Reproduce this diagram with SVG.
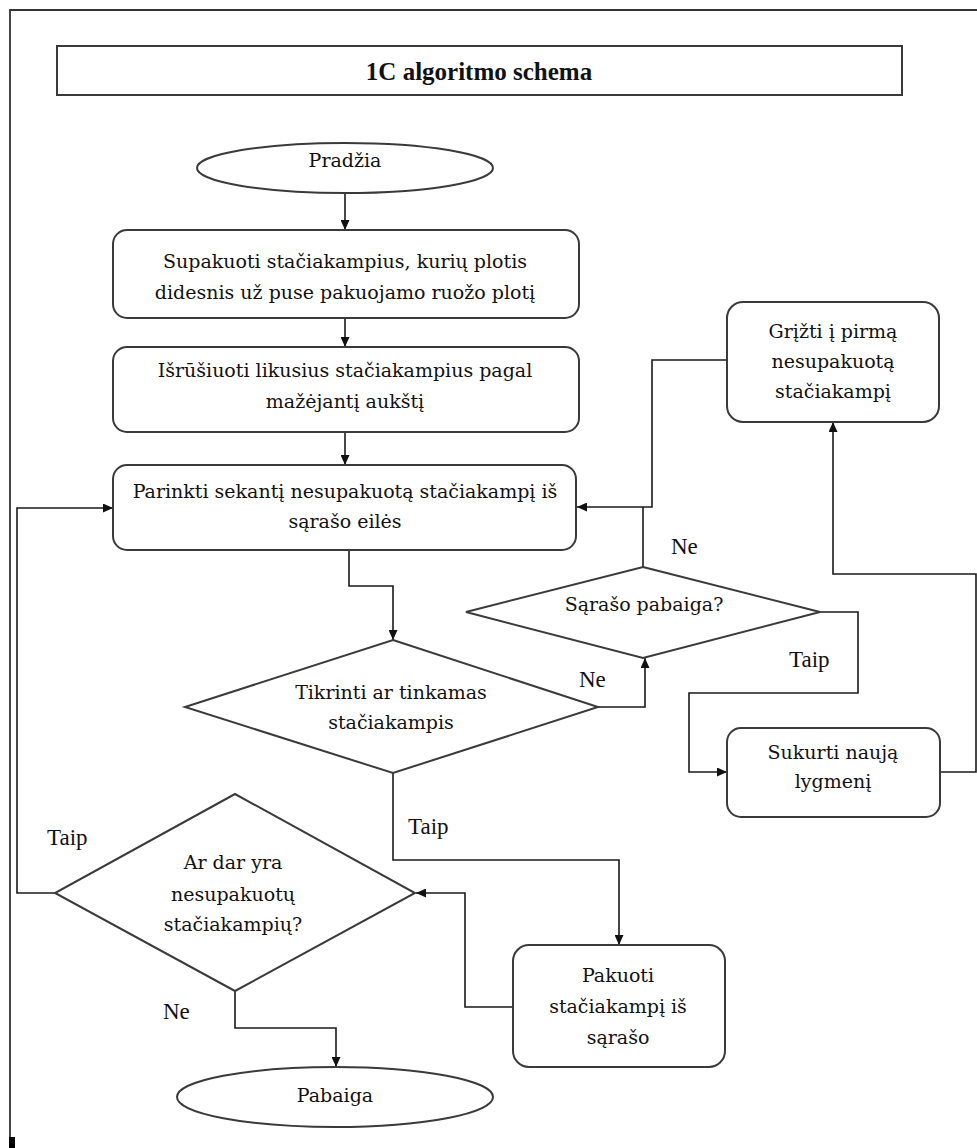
<svg xmlns="http://www.w3.org/2000/svg" width="977" height="1148" viewBox="0 0 977 1148">
  <defs>
    <marker id="arrow" markerUnits="userSpaceOnUse" markerWidth="11" markerHeight="9" refX="10" refY="4.5" orient="auto">
      <path d="M0,0 L10,4.5 L0,9 Z" fill="#111"/>
    </marker>
    <style>
      .shape { fill: #fff; stroke: #3a3a3a; stroke-width: 2; }
      .frame { fill: none; stroke: #333; stroke-width: 1.8; }
      .wire { fill: none; stroke: #1a1a1a; stroke-width: 1.6; }
      .arr { marker-end: url(#arrow); }
      .t { font-family: "DejaVu Serif", "Liberation Serif", serif; font-size: 19px; fill: #111; text-anchor: middle; }
      .lbl { font-family: "Liberation Serif", "Times New Roman", serif; font-size: 23px; fill: #111; }
      .title { font-family: "Liberation Serif", "Times New Roman", serif; font-size: 25px; font-weight: bold; fill: #111; text-anchor: middle; }
    </style>
  </defs>

  <rect width="977" height="1148" fill="#fff"/>

  <!-- page frame -->
  <g id="frame">
    <path class="frame" d="M977,10 H10 V1148"/>
    <rect x="9" y="1137" width="6" height="11" fill="#000"/>
  </g>

  <!-- heading -->
  <g id="title">
    <rect class="shape" x="57" y="46" width="845" height="49"/>
    <text class="title" x="479" y="80">1C algoritmo schema</text>
  </g>

  <!-- connectors -->
  <g id="connectors">
    <path class="wire arr" d="M345,193 V230"/>
    <path class="wire arr" d="M345,318 V347"/>
    <path class="wire arr" d="M345,432 V465"/>
    <path class="wire arr" d="M349,550 V586 H393 V640"/>
    <path class="wire arr" d="M598,707 H645 V658"/>
    <path class="wire" d="M643,567 V507"/>
    <path class="wire arr" d="M727,360 H652 V507 H577"/>
    <path class="wire arr" d="M820,612 H858 V693 H689 V772 H727"/>
    <path class="wire arr" d="M940,772 H976 V574 H833 V422"/>
    <path class="wire arr" d="M393,773 V860 H619 V945"/>
    <path class="wire arr" d="M513,1007 H465 V893 H416"/>
    <path class="wire arr" d="M55,893 H17 V508 H113"/>
    <path class="wire arr" d="M235,991 V1028 H336 V1067"/>
  </g>

  <!-- connector labels -->
  <g id="labels">
    <text class="lbl" x="671" y="554">Ne</text>
    <text class="lbl" x="789" y="667">Taip</text>
    <text class="lbl" x="579" y="687">Ne</text>
    <text class="lbl" x="408" y="834">Taip</text>
    <text class="lbl" x="47" y="845">Taip</text>
    <text class="lbl" x="163" y="1019">Ne</text>
  </g>

  <g id="start">
    <ellipse class="shape" cx="345" cy="168" rx="148" ry="25"/>
    <text class="t" x="345" y="167">Pradžia</text>
  </g>

  <g id="pack-wide">
    <rect class="shape" x="113" y="230" width="466" height="88" rx="14"/>
    <text class="t" x="345" y="268">Supakuoti stačiakampius, kurių plotis</text>
    <text class="t" x="345" y="299">didesnis už puse pakuojamo ruožo plotį</text>
  </g>

  <g id="sort">
    <rect class="shape" x="113" y="347" width="466" height="85" rx="14"/>
    <text class="t" x="345" y="377">Išrūšiuoti likusius stačiakampius pagal</text>
    <text class="t" x="345" y="408">mažėjantį aukštį</text>
  </g>

  <g id="pick-next">
    <rect class="shape" x="113" y="465" width="463" height="85" rx="14"/>
    <text class="t" x="345" y="498">Parinkti sekantį nesupakuotą stačiakampį iš</text>
    <text class="t" x="345" y="528">sąrašo eilės</text>
  </g>

  <g id="check-fit">
    <polygon class="shape" points="393,640 598,707 393,773 185,707"/>
    <text class="t" x="391" y="699">Tikrinti ar tinkamas</text>
    <text class="t" x="391" y="729">stačiakampis</text>
  </g>

  <g id="list-end">
    <polygon class="shape" points="643,567 820,612 643,658 466,612"/>
    <text class="t" x="644" y="611">Sąrašo pabaiga?</text>
  </g>

  <g id="go-back">
    <rect class="shape" x="727" y="302" width="212" height="120" rx="16"/>
    <text class="t" x="833" y="338">Grįžti į pirmą</text>
    <text class="t" x="833" y="368">nesupakuotą</text>
    <text class="t" x="833" y="398">stačiakampį</text>
  </g>

  <g id="new-level">
    <rect class="shape" x="727" y="728" width="213" height="89" rx="14"/>
    <text class="t" x="833" y="759">Sukurti naują</text>
    <text class="t" x="833" y="788">lygmenį</text>
  </g>

  <g id="pack">
    <rect class="shape" x="513" y="945" width="212" height="122" rx="16"/>
    <text class="t" x="618" y="982">Pakuoti</text>
    <text class="t" x="618" y="1013">stačiakampį iš</text>
    <text class="t" x="618" y="1044">sąrašo</text>
  </g>

  <g id="more-left">
    <polygon class="shape" points="235,794 415,893 235,991 55,893"/>
    <text class="t" x="233" y="869">Ar dar yra</text>
    <text class="t" x="233" y="901">nesupakuotų</text>
    <text class="t" x="233" y="931">stačiakampių?</text>
  </g>

  <g id="end">
    <ellipse class="shape" cx="335" cy="1097" rx="158" ry="30"/>
    <text class="t" x="335" y="1102">Pabaiga</text>
  </g>
</svg>
